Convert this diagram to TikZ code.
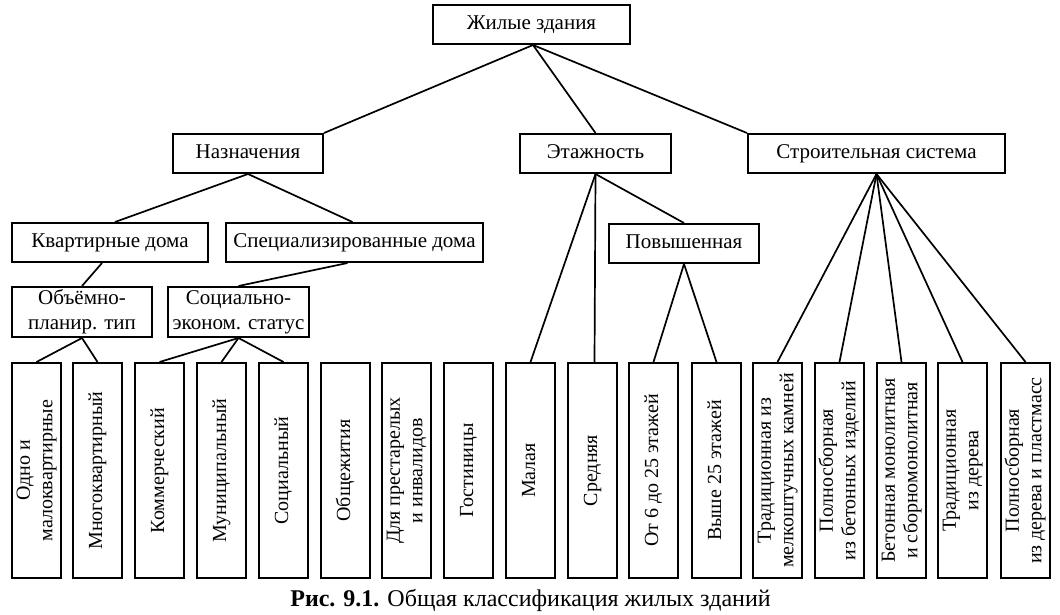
\documentclass[tikz,border=0pt]{standalone}
\usepackage{fontspec}
\setmainfont{Liberation Serif}
\usepackage{graphicx}
\usepackage{tikz}
\usetikzlibrary{positioning}

\newcommand{\vtext}[1]{\rotatebox{90}{\begin{tabular}{@{}c@{}}#1\end{tabular}}}

\begin{document}
\begin{tikzpicture}[x=1pt, y=-1pt,
    box/.style={draw, line width=2pt, inner sep=0pt, align=center,
                font=\fontsize{21}{25}\selectfont},
    head/.style={box, minimum height=39pt, text height=14.5pt, text depth=4.5pt},
    leaf/.style={box, minimum width=49pt, minimum height=215pt,
                 font=\fontsize{20}{22.5}\selectfont},
    link/.style={line width=1.7pt}]
      \path[use as bounding box] (0,0) rectangle (1060,615);

      % Nodi superiori
      \node[head, minimum width=197pt] (zd) at (531.5,24.5) {Жилые здания};
      \node[head, minimum width=150pt] (nazn) at (248,153.5) {Назначения};
      \node[head, minimum width=151pt] (etazh) at (595.5,153.5) {Этажность};
      \node[head, minimum width=257pt] (stroi) at (876.5,153.5) {Строительная система};
      \node[head, minimum width=196pt] (kvart) at (110,242.5) {Квартирные дома};
      \node[head, minimum width=257pt] (spec) at (354.5,242.5) {Специализированные дома};
      \node[head, minimum width=150pt] (povysh) at (684,243.5) {Повышенная};
      \node[box, minimum width=140pt, minimum height=50pt] (obem) at (82,312) {Объёмно-\\планир. тип};
      \node[box, minimum width=141pt, minimum height=50pt] (sots) at (238.5,312) {Социально-\\эконом. статус};

      % Nodi inferiori
      \node[leaf] (odno) at (36.5,470.5) {\vtext{Одно и\\малоквартирные}};
      \node[leaf] (mnogo) at (97.5,470.5) {\vtext{Многоквартирный}};
      \node[leaf] (komm) at (159.5,470.5) {\vtext{Коммерческий}};
      \node[leaf] (mun) at (221.5,470.5) {\vtext{Муниципальный}};
      \node[leaf] (soc) at (283.5,470.5) {\vtext{Социальный}};
      \node[leaf] (obsh) at (345.5,470.5) {\vtext{Общежития}};
      \node[leaf] (prest) at (406.5,470.5) {\vtext{Для престарелых\\и инвалидов}};
      \node[leaf] (gost) at (468.5,470.5) {\vtext{Гостиницы}};
      \node[leaf] (mal) at (530.5,470.5) {\vtext{Малая}};
      \node[leaf] (sred) at (592.5,470.5) {\vtext{Средняя}};
      \node[leaf] (ot6) at (653.5,470.5) {\vtext{От 6 до 25 этажей}};
      \node[leaf] (vyshe) at (716.5,470.5) {\vtext{Выше 25 этажей}};
      \node[leaf] (trad) at (777.5,470.5) {\vtext{Традиционная из\\мелкоштучных камней}};
      \node[leaf] (polnb) at (839.5,470.5) {\vtext{Полносборная\\из бетонных изделий}};
      \node[leaf] (beton) at (901.5,470.5) {\vtext{Бетонная монолитная\\и сборномонолитная}};
      \node[leaf] (tradd) at (962.5,470.5) {\vtext{Традиционная\\из дерева}};
      \node[leaf] (polnd) at (1025.5,470.5) {\vtext{Полносборная\\из дерева и пластмасс}};

      % Didascalia
      \node[font=\fontsize{24}{28}\selectfont] (cap) at (530.5,600) {\textbf{Рис. 9.1.} Общая классификация жилых зданий};

      % Collegamenti
      \draw[link] ([xshift=1.5pt]zd.south) -- (nazn.north east);
      \draw[link] ([xshift=1.5pt]zd.south) -- (etazh.north);
      \draw[link] ([xshift=1.5pt]zd.south) -- (stroi.north west);
      \draw[link] (nazn.south) -- ([xshift=5pt]kvart.north);
      \draw[link] (nazn.south) -- ([xshift=-2pt]spec.north);
      \draw[link] ([xshift=-8pt]kvart.south) -- (obem.north);
      \draw[link] ([xshift=-7pt]spec.south) -- (sots.north);
      \draw[link] (obem.south) -- (odno.north);
      \draw[link] (obem.south) -- (mnogo.north);
      \draw[link] (sots.south) -- (komm.north);
      \draw[link] (sots.south) -- (mun.north);
      \draw[link] (sots.south) -- (soc.north);
      \draw[link] (etazh.south) -- (mal.north);
      \draw[link] (etazh.south) -- ([xshift=2pt]sred.north);
      \draw[link] (etazh.south) -- (povysh.north);
      \draw[link] (povysh.south) -- (ot6.north);
      \draw[link] (povysh.south) -- (vyshe.north);
      \draw[link] (stroi.south) -- (trad.north);
      \draw[link] (stroi.south) -- (polnb.north);
      \draw[link] (stroi.south) -- (beton.north);
      \draw[link] (stroi.south) -- (tradd.north);
      \draw[link] (stroi.south) -- (polnd.north);
    \end{tikzpicture}
\end{document}
